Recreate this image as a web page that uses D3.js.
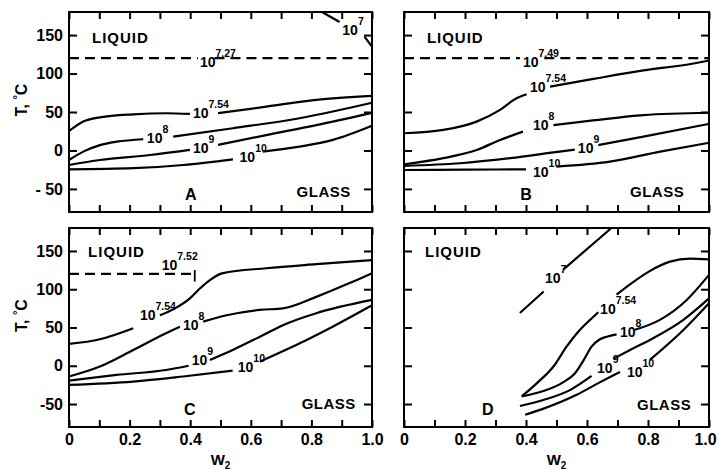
<!DOCTYPE html>
<html>
<head>
<meta charset="utf-8">
<script src="https://cdn.jsdelivr.net/npm/d3@7"></script>
<style>
  body { margin: 0; background: #fff; }
  text { font-family: "Liberation Sans", Arial, sans-serif; font-weight: bold; fill: #000; }
</style>
</head>
<body>
<svg id="fig" width="719" height="470"></svg>
<script>
// ---- axis values ----
var xMinorTicks = [0, 0.1, 0.2, 0.3, 0.4, 0.5, 0.6, 0.7, 0.8, 0.9, 1.0];
var xTicks = [0, 0.2, 0.4, 0.6, 0.8, 1.0];
var xTickLabels = ["0", "0.2", "0.4", "0.6", "0.8", "1.0"];
var yTicks = [150, 100, 50, 0, -50];
var yTickLabelsTop = ["150", "100", "50", "0", "- 50"];
var yTickLabelsBottom = ["150", "100", "50", "0", "-50"];

// ---- iso-viscosity curves, [w2, T in C]; null = break where the label sits ----
// panel A
var a7    = [[0.835,180],[0.893,167],null,[0.975,148],[1,135]];
var a727  = [[0,120],[0.425,120],null,[0.48,120],[1,120]];
var a754  = [[0,25],[0.047,37.5],[0.102,43],[0.212,47],[0.322,48.4],[0.399,47.5],null,[0.492,48.4],[0.651,57],[0.816,65.7],[1,71]];
var a8    = [[0,-12.4],[0.047,-1.5],[0.102,7],[0.157,11.4],[0.245,14.6],null,[0.344,18],[0.541,28.9],[0.761,41.9],[1,62]];
var a9    = [[0,-18.9],[0.102,-12.4],[0.267,-5.9],[0.399,0.7],null,[0.492,7.2],[0.651,20],[0.816,33],[1,49]];
var a10   = [[0,-24.5],[0.212,-23],[0.377,-18.9],[0.541,-11.5],null,[0.64,-1.5],[0.761,5],[0.871,13.7],[1,32]];
// panel B
var b749  = [[0,120],[0.38,120],null,[0.46,120],[1,120]];
var b754  = [[0,22.4],[0.129,26.7],[0.238,37.5],[0.315,52.7],[0.369,67.9],[0.402,73],null,[0.479,83],[0.621,93],[0.785,104],[0.949,113],[1,117]];
var b8    = [[0,-18],[0.129,-10],[0.238,0.6],[0.315,13.6],[0.39,24.5],null,[0.49,33],[0.62,39],[0.785,46],[1,49]];
var b9    = [[0,-20],[0.184,-16.6],[0.348,-10],[0.51,-1.5],[0.56,1],null,[0.637,7],[0.785,18],[1,34.5]];
var b10   = [[0,-25.4],[0.2,-25],[0.4,-24.5],null,[0.5,-21],[0.675,-14.6],[0.84,-1.5],[1,10]];
// panel C
var c752  = [[0,120],[0.415,120]];
var c752end = [[0.415,125],[0.415,110]];
var c754  = [[0,28.5],[0.102,34.6],[0.212,49],null,[0.30,66],[0.35,75],[0.399,88],[0.432,101],[0.465,112],[0.508,121],[0.651,127.4],[0.816,132.7],[1,138]];
var c8    = [[0,-14],[0.102,-1],[0.212,20.6],[0.32,42.5],[0.366,51],null,[0.443,57.7],[0.52,66],[0.63,73],[0.706,75],[0.816,90],[0.926,108],[1,121]];
var c9    = [[0,-19.4],[0.157,-12],[0.32,-5.5],[0.395,0],null,[0.465,7.6],[0.54,20.6],[0.63,38],[0.706,53],[0.816,68.6],[1,86]];
var c10   = [[0,-25],[0.212,-20.7],[0.377,-14],[0.54,-6.4],null,[0.63,5.4],[0.76,29],[0.87,51],[1,79]];
// panel D
var d7    = [[0.38,69],[0.458,97],null,[0.522,125.6],[0.68,180]];
var d754  = [[0.386,-40],[0.435,-23],[0.49,-1],[0.533,25],[0.577,47],[0.61,60],[0.637,70],null,[0.697,93],[0.75,109],[0.807,124],[0.872,136],[0.938,140],[1,139]];
var d8    = [[0.386,-40],[0.457,-33],[0.52,-22],[0.56,-10],[0.59,8],[0.615,25],[0.64,34],[0.665,38],[0.697,41],null,[0.757,47],[0.839,60],[0.927,86],[1,118.7]];
var d9    = [[0.38,-52.6],[0.457,-44.7],[0.544,-31.8],[0.615,-13.3],null,[0.686,9],[0.741,20.6],[0.806,33.7],[0.916,60],[1,88]];
var d10   = [[0.397,-64],[0.451,-57],[0.566,-38],[0.64,-22],[0.708,-8],null,[0.806,7.6],[0.916,46.8],[1,81.7]];

// ---- contour labels: exponent of 10, w2, T at the baseline of "10" ----
var labelsA = [["7",0.902,150.6],["7.27",0.432,108.6],["7.54",0.409,42],["8",0.257,9.8],["9",0.409,-3],["10",0.563,-15]];
var labelsB = [["7.49",0.39,108.6],["7.54",0.413,76],["8",0.423,26.7],["9",0.57,-3],["10",0.423,-34.5]];
var labelsC = [["7.52",0.306,125],["7.54",0.234,60],["8",0.376,46.8],["9",0.405,1],["10",0.557,-8]];
var labelsD = [["7",0.462,108],["7.54",0.643,68],["8",0.708,37.6],["9",0.633,-9],["10",0.731,-15]];

var svg = d3.select("#fig");

var panels = [
  { letter: "A", left: 69,  right: 372, top: 12,  bottom: 212, solid: [a7, a754, a8, a9, a10], dashed: [a727], marks: [],
    labels: labelsA, yLabels: yTickLabelsTop, xLabels: false, liquid: [0.076, 140], glass: [0.751, -60.5], letterAt: [0.402, -64.4] },
  { letter: "B", left: 404, right: 709, top: 12,  bottom: 212, solid: [b754, b8, b9, b10], dashed: [b749], marks: [],
    labels: labelsB, yLabels: null, xLabels: false, liquid: [0.075, 140], glass: [0.741, -60.5], letterAt: [0.40, -64.4] },
  { letter: "C", left: 69,  right: 372, top: 228, bottom: 427, solid: [c754, c8, c9, c10], dashed: [c752], marks: [c752end],
    labels: labelsC, yLabels: yTickLabelsBottom, xLabels: true, liquid: [0.063, 142.6], glass: [0.768, -56.5], letterAt: [0.399, -64] },
  { letter: "D", left: 404, right: 709, top: 228, bottom: 427, solid: [d7, d754, d8, d9, d10], dashed: [], marks: [],
    labels: labelsD, yLabels: null, xLabels: true, liquid: [0.069, 142.6], glass: [0.764, -58], letterAt: [0.275, -64] }
];

panels.forEach(function(p) {
  var x = d3.scaleLinear().domain([0, 1]).range([p.left, p.right]);
  var y = d3.scaleLinear().domain([-80, 180]).range([p.bottom, p.top]);
  var g = svg.append("g");

  var line = d3.line()
    .defined(function(d) { return d !== null; })
    .x(function(d) { return x(d[0]); })
    .y(function(d) { return y(d[1]); })
    .curve(d3.curveMonotoneX);

  var straight = d3.line()
    .defined(function(d) { return d !== null; })
    .x(function(d) { return x(d[0]); })
    .y(function(d) { return y(d[1]); });

  // curves
  p.solid.forEach(function(c) {
    g.append("path").datum(c).attr("d", line)
      .attr("fill", "none").attr("stroke", "#000").attr("stroke-width", 2.2)
      .attr("stroke-linejoin", "round");
  });
  p.dashed.forEach(function(c) {
    g.append("path").datum(c).attr("d", straight)
      .attr("fill", "none").attr("stroke", "#000").attr("stroke-width", 2.2)
      .attr("stroke-dasharray", "10,6");
  });
  p.marks.forEach(function(c) {
    g.append("path").datum(c).attr("d", straight)
      .attr("fill", "none").attr("stroke", "#000").attr("stroke-width", 1.8);
  });

  // ticks, all pointing inward
  var tickStyle = function(ax) {
    ax.select(".domain").remove();
    ax.selectAll("line").attr("stroke-width", 2);
  };
  g.append("g").attr("transform", "translate(0," + p.bottom + ")")
    .call(d3.axisBottom(x).tickValues(xMinorTicks).tickSizeInner(-7).tickSizeOuter(0).tickFormat(""))
    .call(tickStyle);
  g.append("g").attr("transform", "translate(0," + p.top + ")")
    .call(d3.axisTop(x).tickValues(xMinorTicks).tickSizeInner(-7).tickSizeOuter(0).tickFormat(""))
    .call(tickStyle);
  g.append("g").attr("transform", "translate(" + p.left + ",0)")
    .call(d3.axisLeft(y).tickValues(yTicks).tickSizeInner(-8).tickSizeOuter(0).tickFormat(""))
    .call(tickStyle);
  g.append("g").attr("transform", "translate(" + p.right + ",0)")
    .call(d3.axisRight(y).tickValues(yTicks).tickSizeInner(-8).tickSizeOuter(0).tickFormat(""))
    .call(tickStyle);

  // tick labels
  if (p.yLabels) {
    var yl = g.append("g").attr("transform", "translate(" + p.left + ",0)")
      .call(d3.axisLeft(y).tickValues(yTicks).tickSize(0).tickPadding(6)
        .tickFormat(function(d, i) { return p.yLabels[i]; }));
    yl.select(".domain").remove();
    yl.attr("font-family", null).attr("font-size", 16);
  }
  if (p.xLabels) {
    var xl = g.append("g").attr("transform", "translate(0," + p.bottom + ")")
      .call(d3.axisBottom(x).tickValues(xTicks).tickSize(0).tickPadding(7)
        .tickFormat(function(d, i) { return xTickLabels[i]; }));
    xl.select(".domain").remove();
    xl.attr("font-family", null).attr("font-size", 16);
    // last label of the right column sits against the page edge
    if (p.right > 700) xl.selectAll("text").filter(function(d) { return d === 1; }).attr("dx", -4);

    var wt = g.append("text").attr("x", x(0.5)).attr("y", p.bottom + 38)
      .attr("text-anchor", "middle").attr("font-size", 15);
    wt.append("tspan").text("W");
    wt.append("tspan").attr("font-size", 10).attr("dy", 4).text("2");
  }
  if (p.left < 100) {
    var yt = g.append("text")
      .attr("transform", "translate(27," + ((p.top + p.bottom) / 2 - 12) + ") rotate(-90)")
      .attr("text-anchor", "middle").attr("font-size", 16);
    yt.append("tspan").text("T, ");
    yt.append("tspan").attr("font-size", 11).attr("dy", -6).text("°");
    yt.append("tspan").attr("dy", 6).text("C");
  }

  // frame
  g.append("rect").attr("x", p.left).attr("y", p.top)
    .attr("width", p.right - p.left).attr("height", p.bottom - p.top)
    .attr("fill", "none").attr("stroke", "#000").attr("stroke-width", 2);

  // contour labels
  p.labels.forEach(function(d) {
    var t = g.append("text").attr("x", x(d[1])).attr("y", y(d[2])).attr("font-size", 14);
    t.append("tspan").text("10");
    t.append("tspan").attr("dy", -10).attr("font-size", 10.5).text(d[0]);
  });

  // region annotations
  g.append("text").attr("x", x(p.liquid[0])).attr("y", y(p.liquid[1]))
    .attr("font-size", 15).attr("letter-spacing", 1).text("LIQUID");
  g.append("text").attr("x", x(p.glass[0])).attr("y", y(p.glass[1]))
    .attr("font-size", 15).attr("letter-spacing", 0.5).text("GLASS");
  g.append("text").attr("x", x(p.letterAt[0])).attr("y", y(p.letterAt[1]))
    .attr("text-anchor", "middle").attr("font-size", 16).text(p.letter);
});
</script>
</body>
</html>
